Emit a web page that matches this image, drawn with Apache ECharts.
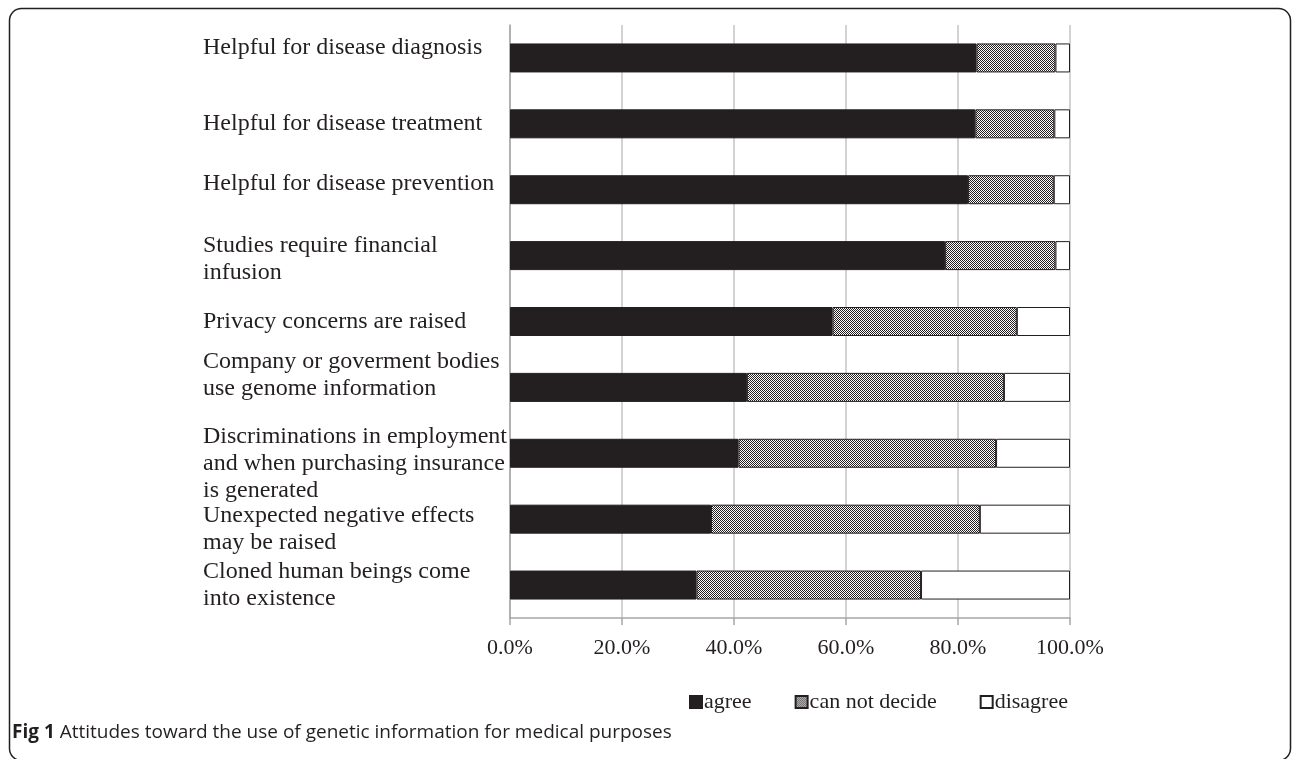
<!DOCTYPE html>
<html>
<head>
<meta charset="utf-8">
<script src="https://cdn.jsdelivr.net/npm/echarts@6/dist/echarts.min.js"></script>
<style>
  html, body { margin: 0; padding: 0; background: #fff; }
  #chart { width: 1292px; height: 759px; }
</style>
</head>
<body>
<div id="chart"></div>
<script>
  // statements, top to bottom
  const categories = [
    'Helpful for disease diagnosis',
    'Helpful for disease treatment',
    'Helpful for disease prevention',
    'Studies require financial\ninfusion',
    'Privacy concerns are raised',
    'Company or goverment bodies\nuse genome information',
    'Discriminations in employment\nand when purchasing insurance\nis generated',
    'Unexpected negative effects\nmay be raised',
    'Cloned human beings come\ninto existence'
  ]
  // percentages
  const agree = [83.3, 83.1, 81.8, 77.7, 57.6, 42.3, 40.8, 35.9, 33.3]
  const cannotDecide = [14.1, 14.1, 15.3, 19.7, 32.9, 45.9, 46.0, 48.0, 40.1]
  const disagree = [2.6, 2.8, 2.9, 2.6, 9.5, 11.8, 13.2, 16.1, 26.6]
  const xTicks = [0, 20, 40, 60, 80, 100]

  const ink = '#231f20'
  const serif = '"Liberation Serif", "DejaVu Serif", serif'
  const sans = '"Open Sans", "Noto Sans", sans-serif'

  /** labels in the figure are not all centred on their bar (px, + = lower) */
  const labelNudge = [-10, 0, -6, 4, 0, -12, 10, 10, 0]

  /** fine checker fill like the excel hatch */
  const pat = document.createElement('canvas')
  pat.width = 2
  pat.height = 2
  const pctx = pat.getContext('2d')
  pctx.fillStyle = '#ffffff'
  pctx.fillRect(0, 0, 2, 2)
  pctx.fillStyle = ink
  pctx.fillRect(0, 0, 1, 1)
  pctx.fillRect(1, 1, 1, 1)

  const rich = { t: { fontFamily: serif, fontSize: 24, lineHeight: 27, color: ink } }
  labelNudge.forEach((n, i) => {
    if (n) rich['g' + i] = { fontSize: 1, lineHeight: Math.abs(n) * 2 }
  })

  const formatLabel = (value, index) => {
    const lines = value.split('\n').map(l => '{t|' + l + '}')
    const n = labelNudge[index]
    if (n > 0) lines.unshift('{g' + index + '| }')
    if (n < 0) lines.push('{g' + index + '| }')
    return lines.join('\n')
  }

  const chart = echarts.init(document.getElementById('chart'))

  const barStyle = (fill) => ({ color: fill, borderColor: ink, borderWidth: 1 })

  chart.setOption({
    animation: false,
    backgroundColor: '#fff',
    textStyle: { fontFamily: serif, color: ink },
    grid: { left: 510, right: 222, top: 25, bottom: 141, containLabel: false, outerBoundsMode: 'none' },
    legend: {
      left: 684,
      top: 686,
      itemWidth: 12,
      itemHeight: 12,
      itemGap: 43,
      icon: 'rect',
      textStyle: { fontFamily: serif, fontSize: 22, color: ink, padding: [0, 0, 0, -3] },
      data: ['agree', 'can not decide', 'disagree']
    },
    xAxis: {
      type: 'value',
      min: xTicks[0],
      max: xTicks[xTicks.length - 1],
      interval: xTicks[1] - xTicks[0],
      axisLine: { show: true, lineStyle: { color: '#a6a6a6', width: 1.5 } },
      axisTick: { show: true, length: 7, lineStyle: { color: '#a6a6a6', width: 1.5 } },
      splitLine: { show: true, lineStyle: { color: '#c4c4c4', width: 1.5 } },
      axisLabel: {
        fontFamily: serif,
        fontSize: 22,
        color: ink,
        margin: 19,
        formatter: v => v.toFixed(1) + '%'
      }
    },
    yAxis: {
      type: 'category',
      inverse: true,
      data: categories,
      axisLine: { show: true, lineStyle: { color: '#a6a6a6', width: 1.5 } },
      axisTick: { show: false },
      axisLabel: {
        align: 'left',
        margin: 307,
        formatter: formatLabel,
        rich: rich
      }
    },
    series: [
      { name: 'agree', type: 'bar', stack: 'all', barWidth: 29, itemStyle: barStyle(ink), data: agree },
      { name: 'can not decide', type: 'bar', stack: 'all', barWidth: 29, itemStyle: barStyle({ image: pat, repeat: 'repeat' }), data: cannotDecide },
      { name: 'disagree', type: 'bar', stack: 'all', barWidth: 29, itemStyle: barStyle('#ffffff'), data: disagree }
    ],
    graphic: [
      {
        type: 'rect',
        shape: { x: 9.5, y: 8.5, width: 1281, height: 752, r: 12 },
        style: { fill: 'none', stroke: ink, lineWidth: 1.5 },
        silent: true
      },
      {
        type: 'text',
        left: 12,
        top: 723,
        style: {
          text: '{b|Fig 1} Attitudes toward the use of genetic information for medical purposes',
          font: '19px ' + sans,
          fill: ink,
          rich: {
            b: { fontWeight: 'bold', fontFamily: sans, fontSize: 19, fill: ink }
          }
        }
      }
    ]
  })
</script>
</body>
</html>
